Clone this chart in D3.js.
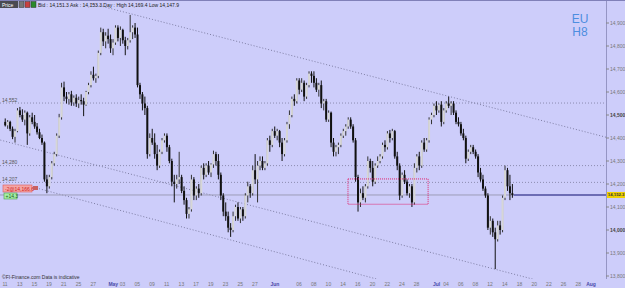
<!DOCTYPE html>
<html lang="en">
<head>
<meta charset="UTF-8">
<title>EU H8</title>
<style>
  body { margin: 0; padding: 0; background: #cdcdfa; }
  svg { display: block; font-family: "Liberation Sans", Arial, sans-serif; }
</style>
</head>
<body>
<script src="https://d3js.org/d3.v7.min.js"></script>
<script>
const width = 625, height = 288;

// H8 bars, 3 per trading day from 11 Apr 2016: [open, high, low, close]
const bars = [
  [14470,14485,14450,14455],[14455,14478,14440,14470],[14470,14475,14430,14440],[14440,14450,14395,14405],[14405,14440,14380,14430],[14430,14530,14425,14520],
  [14520,14535,14490,14500],[14500,14525,14470,14480],[14480,14520,14455,14510],[14510,14515,14370,14420],[14420,14500,14410,14490],[14490,14510,14460,14470],
  [14470,14500,14440,14450],[14450,14465,14415,14425],[14425,14440,14395,14400],[14400,14415,14370,14380],[14380,14385,14210,14220],[14220,14240,14160,14190],
  [14190,14240,14180,14230],[14230,14300,14220,14290],[14290,14340,14280,14330],[14330,14420,14320,14410],[14410,14505,14400,14490],[14490,14640,14480,14620],
  [14620,14645,14560,14580],[14580,14600,14550,14570],[14570,14600,14545,14590],[14590,14605,14540,14555],[14555,14585,14540,14575],[14575,14590,14535,14550],
  [14550,14580,14530,14565],[14565,14590,14545,14560],[14560,14575,14495,14545],[14545,14605,14540,14600],[14600,14640,14590,14630],[14630,14690,14620,14675],
  [14675,14710,14650,14660],[14660,14680,14640,14670],[14670,14780,14660,14770],[14770,14880,14760,14860],[14860,14875,14800,14820],[14820,14860,14790,14845],
  [14845,14875,14810,14830],[14830,14850,14770,14790],[14790,14830,14760,14815],[14815,14890,14805,14880],[14880,14890,14820,14835],[14835,14885,14800,14870],
  [14870,14875,14810,14825],[14825,14840,14760,14800],[14800,14835,14785,14825],[14825,14935,14815,14860],[14860,14890,14830,14880],[14880,14900,14835,14850],
  [14850,14880,14620,14630],[14630,14640,14570,14590],[14590,14600,14520,14550],[14550,14580,14500,14530],[14530,14540,14310,14330],[14330,14420,14320,14400],
  [14400,14440,14370,14380],[14380,14420,14310,14330],[14330,14370,14260,14280],[14280,14350,14270,14340],[14340,14400,14330,14390],[14390,14420,14380,14410],
  [14410,14420,14340,14360],[14360,14370,14290,14300],[14300,14310,14190,14210],[14210,14240,14120,14200],[14200,14240,14180,14220],[14220,14340,14200,14230],
  [14230,14240,14160,14170],[14170,14190,14110,14130],[14130,14140,14050,14070],[14070,14100,14050,14090],[14090,14240,14080,14220],[14220,14230,14130,14150],
  [14150,14190,14130,14180],[14180,14200,14140,14160],[14160,14280,14150,14270],[14270,14290,14220,14240],[14240,14290,14230,14280],[14280,14300,14240,14250],
  [14250,14290,14230,14285],[14285,14345,14270,14330],[14330,14340,14280,14300],[14300,14330,14220,14240],[14240,14250,14130,14150],[14150,14160,14060,14080],
  [14080,14120,14040,14060],[14060,14080,13990,14010],[14010,14030,13970,14000],[14000,14080,13990,14060],[14060,14110,14040,14100],[14100,14120,14040,14050],
  [14050,14100,14030,14090],[14090,14100,14040,14060],[14060,14160,14050,14150],[14150,14210,14120,14190],[14190,14200,14140,14160],[14160,14280,14150,14260],
  [14260,14330,14200,14220],[14220,14300,14120,14280],[14280,14320,14260,14300],[14300,14320,14260,14270],[14270,14300,14260,14290],[14290,14400,14280,14390],
  [14390,14410,14340,14370],[14370,14440,14360,14430],[14430,14450,14400,14410],[14410,14440,14390,14430],[14430,14435,14360,14380],[14380,14400,14300,14330],
  [14330,14400,14320,14390],[14390,14470,14380,14460],[14460,14520,14440,14500],[14500,14580,14490,14570],[14570,14590,14540,14560],[14560,14660,14550,14650],
  [14650,14660,14590,14610],[14610,14660,14600,14640],[14640,14650,14560,14580],[14580,14640,14570,14630],[14630,14690,14620,14680],[14680,14690,14640,14670],
  [14670,14690,14620,14640],[14640,14660,14600,14610],[14610,14640,14580,14630],[14630,14650,14530,14550],[14550,14570,14520,14560],[14560,14570,14470,14480],
  [14480,14520,14470,14510],[14510,14515,14360,14380],[14380,14400,14320,14340],[14340,14370,14320,14360],[14360,14380,14330,14370],[14370,14420,14360,14410],
  [14410,14440,14400,14430],[14430,14460,14410,14450],[14450,14490,14440,14480],[14480,14490,14440,14450],[14450,14460,14380,14390],[14390,14400,14210,14230],
  [14230,14240,14080,14120],[14120,14180,14100,14160],[14160,14190,14130,14140],[14140,14200,14120,14190],[14190,14320,14180,14300],[14300,14310,14250,14270],
  [14270,14300,14190,14210],[14210,14290,14200,14280],[14280,14320,14270,14300],[14300,14330,14290,14320],[14320,14380,14310,14370],[14370,14390,14340,14360],
  [14360,14430,14350,14420],[14420,14435,14380,14400],[14400,14440,14390,14430],[14430,14435,14310,14320],[14320,14340,14260,14280],[14280,14290,14130,14150],
  [14150,14250,14140,14240],[14240,14260,14200,14210],[14210,14220,14150,14160],[14160,14200,14140,14190],[14190,14200,14100,14120],[14120,14290,14110,14270],
  [14270,14330,14250,14320],[14320,14340,14260,14280],[14280,14390,14270,14380],[14380,14400,14340,14350],[14350,14400,14340,14390],[14390,14490,14380,14480],
  [14480,14510,14460,14500],[14500,14550,14490,14540],[14540,14560,14500,14520],[14520,14550,14510,14545],[14545,14560,14450,14470],[14470,14530,14460,14520],
  [14520,14560,14510,14550],[14550,14580,14530,14540],[14540,14560,14500,14550],[14550,14560,14500,14510],[14510,14520,14460,14470],[14470,14490,14450,14460],
  [14460,14470,14410,14420],[14420,14440,14390,14400],[14400,14410,14290,14310],[14310,14350,14300,14340],[14340,14370,14330,14360],[14360,14370,14330,14340],
  [14340,14350,14310,14320],[14320,14330,14230,14250],[14250,14270,14210,14220],[14220,14240,14170,14180],[14180,14190,14140,14150],[14150,14160,14000,14010],
  [14010,14060,13980,14040],[14040,14050,13970,13990],[13990,14010,13830,13960],[13960,14040,13950,14020],[14020,14040,13980,14000],[14000,14150,13990,14140],
  [14140,14280,14130,14260],[14260,14270,14170,14190],[14190,14240,14130,14160],[14160,14200,14140,14152.3]
];

// axis labels
const tickDates = [
  "2016-04-11","2016-04-13","2016-04-15","2016-04-19","2016-04-21","2016-04-25","2016-04-27",
  "2016-05-02","2016-05-03","2016-05-05","2016-05-09","2016-05-11","2016-05-13","2016-05-17","2016-05-19","2016-05-23","2016-05-25","2016-05-27",
  "2016-06-01","2016-06-06","2016-06-08","2016-06-10","2016-06-14","2016-06-16","2016-06-20","2016-06-22","2016-06-24","2016-06-28",
  "2016-07-01","2016-07-04","2016-07-06","2016-07-08","2016-07-12","2016-07-14","2016-07-18","2016-07-20","2016-07-22","2016-07-26","2016-07-28",
  "2016-08-01"
];
const priceTicks = [14900,14800,14700,14600,14500,14400,14300,14200,14100,14000,13900,13800];
const boldTicks = [14500,14000];

// horizontal levels and last price
const levels = [14552, 14280, 14207];
const lastPrice = 14152.3;

// drawn trend lines, [bar, price] pairs
const trendLines = [
  [[35,14985],[245,14404]],
  [[-2,14391],[190,13857]],
  [[12.6,14183],[147,13800]]
];
// red dotted box: bars from-to, price top-bottom
const boxBars = [140.4, 173.1];
const boxPrices = [14222, 14112];

const headerText = "Bid : 14,151.3   Ask : 14,153.3   Day : High 14,169.4   Low 14,147.9";

// trading days (weekdays) for the x axis
const parse = d3.timeParse("%Y-%m-%d");
const days = d3.timeDay.range(new Date(2016,3,11), new Date(2016,7,2)).filter(d => d.getDay() % 6 !== 0);
const dayIdx = d => days.findIndex(x => +x === +d);

const x = d3.scaleLinear().domain([0, 240]).range([4, 592]);
const y = d3.scaleLinear().domain([13800, 14900]).range([276, 23]);
const plotRight = 606, plotBottom = 279;

const svg = d3.select('body').append('svg')
  .attr('width', width).attr('height', height);

svg.append('rect').attr('width', width).attr('height', height).attr('fill', '#cdcdfa');

svg.append('clipPath').attr('id', 'plot')
  .append('rect').attr('x', 0).attr('y', 0).attr('width', plotRight).attr('height', plotBottom);

const plot = svg.append('g').attr('clip-path', 'url(#plot)');

// level lines
plot.selectAll('line.level').data(levels).join('line')
  .attr('class', 'level')
  .attr('x1', 0).attr('x2', plotRight)
  .attr('y1', d => y(d)).attr('y2', d => y(d))
  .attr('stroke', '#8c8cb0').attr('stroke-dasharray', '1,2');

// trend lines, extended to the right edge
plot.selectAll('line.trend').data(trendLines).join('line')
  .attr('class', 'trend')
  .each(function (d) {
    const [[b1, p1], [b2, p2]] = d;
    const bEnd = x.invert(plotRight) - 0.5;
    const pEnd = p1 + (p2 - p1) * (bEnd - b1) / (b2 - b1);
    d3.select(this)
      .attr('x1', x(b1 + 0.5)).attr('y1', y(p1))
      .attr('x2', x(bEnd + 0.5)).attr('y2', y(pEnd));
  })
  .attr('stroke', '#7e7ea4').attr('stroke-dasharray', '1,2');

// last price line
plot.append('line')
  .attr('x1', 0).attr('x2', plotRight)
  .attr('y1', y(lastPrice)).attr('y2', y(lastPrice))
  .attr('stroke', '#9e9eb8');
plot.append('line')
  .attr('x1', x(bars.length)).attr('x2', plotRight)
  .attr('y1', y(lastPrice)).attr('y2', y(lastPrice))
  .attr('stroke', '#6c6cb4').attr('stroke-width', 2);

// candles
const candle = plot.append('g').selectAll('g').data(bars).join('g');
candle.append('line')
  .attr('x1', (d, i) => x(i + 0.5)).attr('x2', (d, i) => x(i + 0.5))
  .attr('y1', d => y(d[1])).attr('y2', d => y(d[2]))
  .attr('stroke', d => d[3] >= d[0] ? '#333' : '#111');
candle.append('rect')
  .attr('x', (d, i) => x(i + 0.5) - 1)
  .attr('width', 2)
  .attr('y', d => y(Math.max(d[0], d[3])))
  .attr('height', d => Math.max(1, Math.abs(y(d[0]) - y(d[3]))))
  .attr('fill', d => d[3] >= d[0] ? '#d6d6d6' : '#111');

// red dotted box
plot.append('rect')
  .attr('x', x(boxBars[0])).attr('y', y(boxPrices[0]))
  .attr('width', x(boxBars[1]) - x(boxBars[0]))
  .attr('height', y(boxPrices[1]) - y(boxPrices[0]))
  .attr('fill', 'none').attr('stroke', '#e0206a').attr('stroke-dasharray', '1,1');

// level labels on the left
svg.selectAll('text.level').data(levels).join('text')
  .attr('class', 'level')
  .attr('x', 2).attr('y', d => y(d) - 1.5)
  .attr('font-size', 5).attr('fill', '#555')
  .text(d => d3.format(',')(d));

// right axis
svg.append('line').attr('x1', plotRight + 0.5).attr('x2', plotRight + 0.5)
  .attr('y1', 0).attr('y2', plotBottom).attr('stroke', '#9595c4');
const yt = svg.append('g').selectAll('g').data(priceTicks).join('g')
  .attr('transform', d => `translate(${plotRight},${y(d)})`);
yt.append('line').attr('x2', 3).attr('stroke', '#888');
yt.append('text').attr('x', 4).attr('dy', '0.35em')
  .attr('font-size', 5)
  .attr('font-weight', d => boldTicks.includes(d) ? 'bold' : 'normal')
  .attr('fill', d => boldTicks.includes(d) ? '#444' : '#777')
  .text(d => d3.format(',')(d));

// last price tag
svg.append('rect').attr('x', plotRight + 1).attr('y', y(lastPrice) - 3)
  .attr('width', width - plotRight - 1).attr('height', 6).attr('fill', '#f0d000');
svg.append('text').attr('x', width - 0.5).attr('y', y(lastPrice)).attr('dy', '0.35em')
  .attr('text-anchor', 'end')
  .attr('font-size', 4.3).attr('font-weight', 'bold').attr('fill', '#333')
  .text(d3.format(',.1f')(lastPrice));

// bottom axis: first trading day of a month shows the month name
const isMonth = d => {
  const prev = days[dayIdx(d) - 1];
  return !!prev && prev.getMonth() !== d.getMonth();
};
svg.selectAll('text.xt').data(tickDates.map(parse)).join('text')
  .attr('class', 'xt')
  .attr('x', d => x(3 * dayIdx(d)) + (isMonth(d) ? -1 : 1)).attr('y', 286)
  .attr('text-anchor', 'middle')
  .attr('font-size', 5)
  .attr('font-weight', d => isMonth(d) ? 'bold' : 'normal')
  .attr('fill', d => isMonth(d) ? '#4a4aa8' : '#777')
  .text(d => d3.timeFormat(isMonth(d) ? '%b' : '%d')(d));

// header bar
svg.append('line').attr('x1', 0).attr('x2', width).attr('y1', 0.5).attr('y2', 0.5).attr('stroke', '#8080b8');
svg.append('rect').attr('x', 0).attr('y', 1).attr('width', 18).attr('height', 7).attr('fill', '#4a4a52');
svg.append('text').attr('x', 2).attr('y', 6.5).attr('font-size', 5).attr('fill', '#fff').text('Price');
[['#777', 19], ['#c84040', 25], ['#2a8a2a', 31]].forEach(([c, px]) => {
  svg.append('rect').attr('x', px).attr('y', 1.5).attr('width', 5).attr('height', 6)
    .attr('fill', c).attr('stroke', '#333').attr('stroke-width', 0.5);
});
svg.append('text').attr('x', 38).attr('y', 6.5).attr('font-size', 5).attr('fill', '#222').text(headerText);

// instrument name
svg.append('text').attr('x', 580).attr('y', 23).attr('text-anchor', 'middle')
  .attr('font-size', 12).attr('fill', '#4d8ee0').text('EU');
svg.append('text').attr('x', 580).attr('y', 36).attr('text-anchor', 'middle')
  .attr('font-size', 12).attr('fill', '#4d8ee0').text('H8');

// order tags on the left
svg.append('rect').attr('x', 3).attr('y', 185).attr('width', 29).attr('height', 7)
  .attr('fill', '#f4a6a6').attr('stroke', '#e05a5a').attr('stroke-width', 0.6);
svg.append('text').attr('x', 5).attr('y', 190.5).attr('font-size', 5).attr('fill', '#d02020').text('-2@14,166.6');
svg.append('rect').attr('x', 33).attr('y', 186).attr('width', 5).attr('height', 4).attr('fill', '#c86060');
svg.append('rect').attr('x', 4).attr('y', 193).attr('width', 13).attr('height', 6)
  .attr('fill', '#a6eea6').attr('stroke', '#4aa04a').attr('stroke-width', 0.6);
svg.append('text').attr('x', 5.5).attr('y', 197.8).attr('font-size', 5).attr('fill', '#206020').text('+14.3');

// footer
svg.append('text').attr('x', 2).attr('y', 279).attr('font-size', 5).attr('fill', '#333')
  .text('\u00a9FI-Finance.com  Data is indicative');
</script>
</body>
</html>
